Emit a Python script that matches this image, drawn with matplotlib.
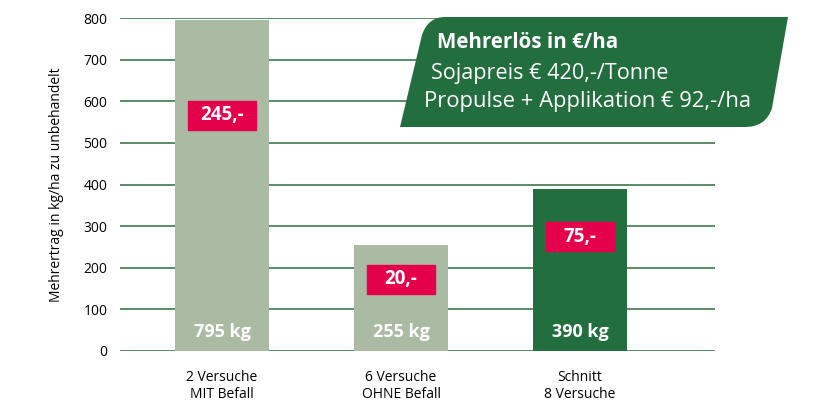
import matplotlib
matplotlib.use("Agg")
import matplotlib.pyplot as plt
from matplotlib.patches import Rectangle, PathPatch
from matplotlib.path import Path

plt.rcParams['font.family'] = ['Open Sans', 'DejaVu Sans']

# ------ data ------
categories = ["2 Versuche\nMIT Befall", "6 Versuche\nOHNE Befall", "Schnitt\n8 Versuche"]
mehrertrag = [795, 255, 390]
bar_labels = ["795 kg", "255 kg", "390 kg"]
mehrerloes = ["245,-", "20,-", "75,-"]
yticks = [0, 100, 200, 300, 400, 500, 600, 700, 800]

# ------ layout ------
erloes_box_y = [566, 172, 275]   # centre of red box in data units
bar_colors = ["#abbba3", "#abbba3", "#236e3e"]
grid_green = "#2d6b3c"
red = "#e4004b"
dark_green = "#236e3e"

W, H = 837, 418
fig = plt.figure(figsize=(W / 100, H / 100), dpi=100)
ax = fig.add_axes([120 / W, 1 - 351 / H, 595 / W, 333 / H])

x = list(range(len(categories)))
ax.set_xlim(-0.57, 2.754)
ax.set_ylim(0, 800)

for y in yticks:
    ax.axhline(y, color=grid_green, lw=1.1, zorder=1)

ax.bar(x, mehrertrag, width=0.53, color=bar_colors, zorder=2)

for xi, val, lab, erl, ey in zip(x, mehrertrag, bar_labels, mehrerloes, erloes_box_y):
    ax.text(xi, 45, lab, ha="center", va="center", color="white",
            fontsize=13, fontweight="bold", zorder=4)
    ax.add_patch(Rectangle((xi - 0.19, ey - 35), 0.38, 70, color=red, zorder=3))
    ax.text(xi, ey, erl, ha="center", va="center", color="white",
            fontsize=13.5, fontweight="bold", zorder=4)

for s in ax.spines.values():
    s.set_visible(False)
ax.set_yticks(yticks)
ax.set_yticklabels([str(v) for v in yticks], fontsize=10)
ax.set_xticks(x)
ax.set_xticklabels(categories, fontsize=10, linespacing=1.1)
ax.tick_params(axis="y", length=0, pad=9)
ax.tick_params(axis="x", length=0, pad=14)
ax.set_ylabel("Mehrertrag in kg/ha zu unbehandelt", fontsize=10, labelpad=14)

# ------ green info box (pixel coords -> figure coords) ------
def p(px, py):
    return (px / W, 1 - py / H)

verts = [p(400, 127), p(422, 35), p(428, 17), p(445, 17), p(788, 17),
         p(772, 108), p(766, 127), p(745, 127), p(400, 127)]
codes = [Path.MOVETO, Path.LINETO, Path.CURVE3, Path.CURVE3, Path.LINETO,
         Path.LINETO, Path.CURVE3, Path.CURVE3, Path.CLOSEPOLY]
fig.add_artist(PathPatch(Path(verts, codes), transform=fig.transFigure,
                         facecolor=dark_green, edgecolor="none", zorder=5))

fig.text(*p(437, 43), "Mehrerlös in €/ha", color="white", fontsize=14.8,
         fontweight="bold", va="center", ha="left", zorder=6)
fig.text(*p(431, 73), "Sojapreis € 420,-/Tonne", color="white", fontsize=15.6,
         va="center", ha="left", zorder=6)
fig.text(*p(424, 102), "Propulse + Applikation € 92,-/ha", color="white",
         fontsize=15.8, va="center", ha="left", zorder=6)

plt.savefig("out.png", dpi=100)
